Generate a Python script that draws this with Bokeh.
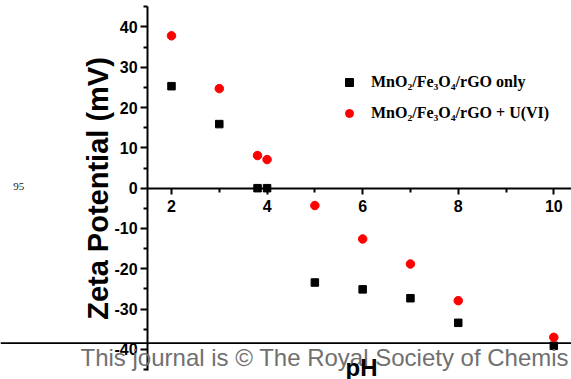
from bokeh.plotting import figure
from bokeh.models import (Range1d, FixedTicker, Label, BoxAnnotation, Legend,
                          LegendItem, LinearAxis, PrintfTickFormatter)
from bokeh.embed import file_html
from bokeh.resources import INLINE

# ---- data ----
ph_only = [2, 3, 3.8, 4, 5, 6, 7, 8, 10]
zeta_only = [25.3, 15.9, 0.0, 0.0, -23.4, -25.1, -27.3, -33.4, -39.1]
ph_u = [2, 3, 3.8, 4, 5, 6, 7, 8, 10]
zeta_u = [37.8, 24.7, 8.1, 7.1, -4.3, -12.6, -18.8, -27.9, -37.0]

x_ticks = [2, 4, 6, 8, 10]
x_minor = [3, 5, 7, 9]
y_ticks = [-40, -30, -20, -10, 0, 10, 20, 30, 40]
y_minor = [-45, -35, -25, -15, -5, 5, 15, 25, 35, 45]

label_only = "MnO\u2082/Fe\u2083O\u2084/rGO only"
label_u = "MnO\u2082/Fe\u2083O\u2084/rGO + U(VI)"
x_title = "pH"
y_title = "Zeta Potential (mV)"
footer = "This journal is \u00a9 The Royal Society of Chemis"
line_no = "95"

# the frame covers the whole page; both axes sit at fixed places inside it
p = figure(width=571, height=379, output_backend="svg", toolbar_location=None,
           x_range=Range1d(-1.578, 10.370), y_range=Range1d(-47.46, 46.56),
           x_axis_location=None, y_axis_location=None,
           min_border_left=0, min_border_right=0,
           min_border_top=0, min_border_bottom=0)
p.grid.visible = False
p.outline_line_color = None
p.background_fill_color = "white"
p.border_fill_color = "white"

yaxis = LinearAxis(ticker=FixedTicker(ticks=y_ticks, minor_ticks=y_minor),
                   formatter=PrintfTickFormatter(format="%d"),
                   axis_label=y_title, fixed_location=1.5,
                   bounds=(-45.2, 45.1))
xaxis = LinearAxis(ticker=FixedTicker(ticks=x_ticks, minor_ticks=x_minor),
                   formatter=PrintfTickFormatter(format="%d"),
                   fixed_location=0, bounds=(1.5, 10.37))
for ax in (xaxis, yaxis):
    ax.axis_line_width = 2
    ax.axis_line_color = "black"
    ax.major_tick_line_width = 2
    ax.minor_tick_line_width = 2
    ax.major_tick_in = 0
    ax.minor_tick_in = 0
    ax.major_label_text_font = "Liberation Sans"
    ax.major_label_text_font_style = "bold"
    ax.major_label_text_font_size = "16px"
    ax.major_label_text_color = "black"
yaxis.major_tick_out = 7
yaxis.minor_tick_out = 4
yaxis.major_label_standoff = 3
yaxis.axis_label_text_font = "Liberation Sans"
yaxis.axis_label_text_font_style = "bold"
yaxis.axis_label_text_font_size = "29px"
yaxis.axis_label_text_color = "black"
yaxis.axis_label_standoff = -3
xaxis.major_tick_out = 6
xaxis.minor_tick_out = 4
xaxis.major_label_standoff = 6
p.add_layout(yaxis, "left")
p.add_layout(xaxis, "below")

r1 = p.scatter(ph_only, zeta_only, marker="square", size=7.5,
               fill_color="black", line_color="black")
r2 = p.scatter(ph_u, zeta_u, marker="circle", size=8.5,
               fill_color="red", line_color="red")

legend = Legend(items=[LegendItem(label=label_only, renderers=[r1]),
                       LegendItem(label=label_u, renderers=[r2])],
                location=(339, 256), padding=0, margin=0, spacing=11,
                glyph_width=20, glyph_height=20, label_height=20,
                label_standoff=12, border_line_color=None,
                background_fill_alpha=0,
                label_text_font="Liberation Serif",
                label_text_font_style="bold",
                label_text_font_size="16px", label_text_color="black")
p.add_layout(legend)

# page elements around the chart
p.add_layout(BoxAnnotation(left=0, right=571, top=341.8, bottom=343.6,
                           left_units="canvas", right_units="canvas",
                           top_units="canvas", bottom_units="canvas",
                           fill_color="black", fill_alpha=1, line_color=None))
p.add_layout(Label(x=80, y=22.3, x_units="screen", y_units="screen",
                   text=footer, text_font="Liberation Sans",
                   text_font_size="24px", text_color="#707070",
                   text_baseline="middle"))
p.add_layout(Label(x=361, y=12.5, x_units="screen", y_units="screen",
                   text=x_title, text_font="Liberation Sans",
                   text_font_style="bold", text_font_size="24px",
                   text_color="black", text_align="center",
                   text_baseline="middle"))
p.add_layout(Label(x=12.7, y=192.7, x_units="screen", y_units="screen",
                   text=line_no, text_font="Liberation Serif",
                   text_font_size="11px", text_color="#222222",
                   text_baseline="middle"))

open("out.html", "w").write(file_html(p, INLINE))
